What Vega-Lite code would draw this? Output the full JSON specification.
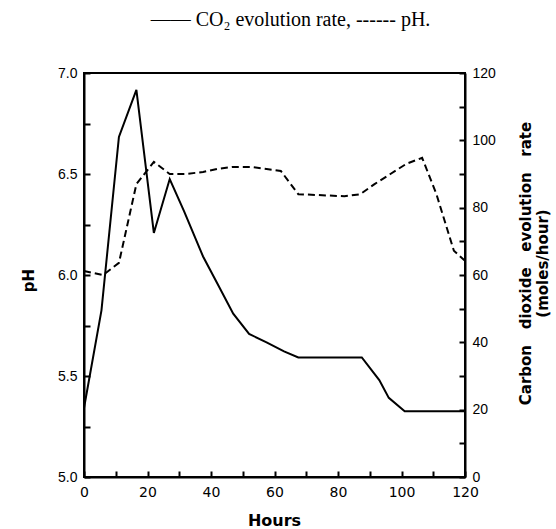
{
  "$schema": "https://vega.github.io/schema/vega-lite/v6.json",
  "autosize": {"type": "none"},
  "width": 381,
  "height": 404,
  "padding": {"left": 84, "top": 73, "right": 91, "bottom": 52},
  "background": "white",
  "title": {
    "text": "—— CO₂ evolution rate, ------ pH.",
    "font": "Liberation Serif",
    "fontSize": 20,
    "fontWeight": "normal",
    "color": "black",
    "anchor": "middle",
    "baseline": "alphabetic",
    "dx": 16,
    "offset": 20
  },
  "config": {
    "view": {"stroke": "black", "strokeWidth": 2},
    "axis": {
      "grid": false,
      "domainColor": "black",
      "domainWidth": 2,
      "ticks": true,
      "tickColor": "black",
      "tickWidth": 2,
      "labelColor": "black",
      "labelFont": "Liberation Sans",
      "labelFontSize": 14,
      "labelFlush": false,
      "labelOverlap": false,
      "labelBound": false,
      "titleColor": "black",
      "titleFont": "DejaVu Sans",
      "titleFontWeight": "bold",
      "titleFontSize": 15
    }
  },
  "datasets": {
    "co2": [
      {"hours": 0, "co2": 20.5},
      {"hours": 5.5, "co2": 49.5},
      {"hours": 11, "co2": 101},
      {"hours": 16.5, "co2": 115},
      {"hours": 22, "co2": 72.5},
      {"hours": 27, "co2": 88.5},
      {"hours": 31.5, "co2": 79},
      {"hours": 37.5, "co2": 65.5},
      {"hours": 42, "co2": 57.5},
      {"hours": 47, "co2": 48.5},
      {"hours": 52, "co2": 42.5},
      {"hours": 57.5, "co2": 40},
      {"hours": 63, "co2": 37.3},
      {"hours": 67.5, "co2": 35.5},
      {"hours": 87.5, "co2": 35.5},
      {"hours": 93, "co2": 28.8},
      {"hours": 96, "co2": 23.5},
      {"hours": 101, "co2": 19.5},
      {"hours": 120, "co2": 19.5}
    ],
    "ph": [
      {"hours": 0, "ph": 6.02},
      {"hours": 6, "ph": 6.0},
      {"hours": 11, "ph": 6.06},
      {"hours": 16.5, "ph": 6.45},
      {"hours": 22, "ph": 6.56},
      {"hours": 27, "ph": 6.5},
      {"hours": 32, "ph": 6.5},
      {"hours": 37.5, "ph": 6.51},
      {"hours": 42, "ph": 6.525},
      {"hours": 47, "ph": 6.535},
      {"hours": 52.5, "ph": 6.535},
      {"hours": 57.5, "ph": 6.525},
      {"hours": 62, "ph": 6.515},
      {"hours": 67.5, "ph": 6.4},
      {"hours": 82, "ph": 6.39},
      {"hours": 87, "ph": 6.4},
      {"hours": 91.5, "ph": 6.45},
      {"hours": 96.5, "ph": 6.5},
      {"hours": 101.5, "ph": 6.55},
      {"hours": 106.5, "ph": 6.58},
      {"hours": 111, "ph": 6.4},
      {"hours": 116.5, "ph": 6.12},
      {"hours": 120, "ph": 6.07}
    ]
  },
  "encoding": {
    "x": {
      "field": "hours",
      "type": "quantitative",
      "scale": {"domain": [0, 120], "nice": false, "zero": false},
      "axis": {
        "values": [0, 10, 20, 30, 40, 50, 60, 70, 80, 90, 100, 110, 120],
        "labelExpr": "datum.value % 20 === 0 ? datum.label : ''",
        "tickSize": -6,
        "labelFont": "DejaVu Sans",
        "labelFontSize": 14,
        "labelPadding": 14,
        "title": "Hours",
        "titleFontSize": 16,
        "titleX": 190,
        "titleY": 48,
        "titleAlign": "center",
        "titleBaseline": "alphabetic"
      }
    }
  },
  "layer": [
    {
      "data": {"name": "ph"},
      "mark": {"type": "line", "color": "black", "strokeWidth": 2, "strokeDash": [7, 4]},
      "encoding": {
        "y": {
          "field": "ph",
          "type": "quantitative",
          "scale": {"domain": [5, 7], "nice": false, "zero": false},
          "axis": {
            "orient": "left",
            "values": [5, 5.25, 5.5, 5.75, 6, 6.25, 6.5, 6.75, 7],
            "format": ".1f",
            "labelExpr": "(datum.value * 2) % 1 === 0 ? datum.label : ''",
            "tickSize": -6,
            "labelPadding": 13,
            "title": "pH",
            "titleAngle": 270,
            "titleX": -56,
            "titleY": 207,
            "titleAlign": "center",
            "titleBaseline": "middle"
          }
        }
      }
    },
    {
      "data": {"name": "co2"},
      "mark": {"type": "line", "color": "black", "strokeWidth": 2},
      "encoding": {
        "y": {
          "field": "co2",
          "type": "quantitative",
          "scale": {"domain": [0, 120], "nice": false},
          "axis": {
            "orient": "right",
            "values": [0, 10, 20, 30, 40, 50, 60, 70, 80, 90, 100, 110, 120],
            "labelExpr": "datum.value % 20 === 0 ? datum.label : ''",
            "tickSize": -6,
            "labelPadding": 13,
            "title": ["Carbon\u00a0\u00a0\u00a0dioxide\u00a0\u00a0\u00a0evolution\u00a0\u00a0\u00a0rate", "(moles/hour)"],
            "titleAngle": 270,
            "titleX": 53,
            "titleY": 190,
            "titleAlign": "center",
            "titleBaseline": "top",
            "titleLineHeight": 17
          }
        }
      }
    }
  ],
  "resolve": {"scale": {"y": "independent"}, "axis": {"y": "independent"}}
}
